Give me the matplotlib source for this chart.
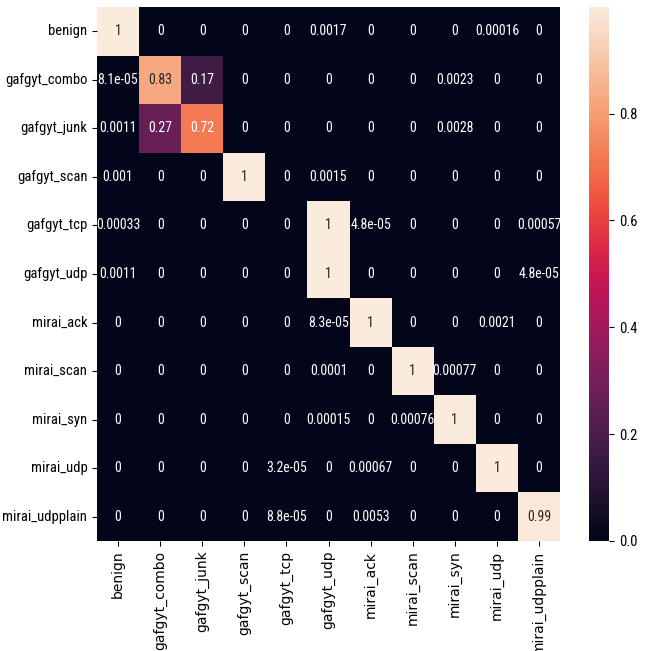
import matplotlib
matplotlib.use("Agg")
import matplotlib.pyplot as plt
import seaborn as sns
import numpy as np

labels = ["benign", "gafgyt_combo", "gafgyt_junk", "gafgyt_scan", "gafgyt_tcp",
          "gafgyt_udp", "mirai_ack", "mirai_scan", "mirai_syn", "mirai_udp",
          "mirai_udpplain"]

row_benign        = [0.9981, 0, 0, 0, 0, 0.0017, 0, 0, 0, 0.00016, 0]
row_gafgyt_combo  = [8.1e-05, 0.83, 0.17, 0, 0, 0, 0, 0, 0.0023, 0, 0]
row_gafgyt_junk   = [0.0011, 0.27, 0.72, 0, 0, 0, 0, 0, 0.0028, 0, 0]
row_gafgyt_scan   = [0.001, 0, 0, 0.9975, 0, 0.0015, 0, 0, 0, 0, 0]
row_gafgyt_tcp    = [0.00033, 0, 0, 0, 0, 0.99905, 4.8e-05, 0, 0, 0, 0.00057]
row_gafgyt_udp    = [0.0011, 0, 0, 0, 0, 0.99885, 0, 0, 0, 0, 4.8e-05]
row_mirai_ack     = [0, 0, 0, 0, 0, 8.3e-05, 0.9978, 0, 0, 0.0021, 0]
row_mirai_scan    = [0, 0, 0, 0, 0, 0.0001, 0, 0.9991, 0.00077, 0, 0]
row_mirai_syn     = [0, 0, 0, 0, 0, 0.00015, 0, 0.00076, 0.9991, 0, 0]
row_mirai_udp     = [0, 0, 0, 0, 3.2e-05, 0, 0.00067, 0, 0, 0.9993, 0]
row_mirai_udpplain = [0, 0, 0, 0, 8.8e-05, 0, 0.0053, 0, 0, 0, 0.9946]

matrix = np.array([row_benign, row_gafgyt_combo, row_gafgyt_junk, row_gafgyt_scan,
                   row_gafgyt_tcp, row_gafgyt_udp, row_mirai_ack, row_mirai_scan,
                   row_mirai_syn, row_mirai_udp, row_mirai_udpplain])

narrow = ["Roboto Condensed", "DejaVu Sans"]

fig = plt.figure(figsize=(6.46, 6.51), dpi=100)
ax = fig.add_axes([97/646, 1-541/651, (560-97)/646, (541-7)/651])
cax = fig.add_axes([589/646, 1-541/651, 20/646, (541-7)/651])

sns.heatmap(matrix, annot=True, fmt=".2g", cmap="rocket", ax=ax, cbar_ax=cax,
            xticklabels=labels, yticklabels=labels,
            annot_kws={"fontsize": 10, "family": narrow, "fontstretch": "condensed"})

ax.set_xticklabels(labels, rotation=90, fontsize=10, family="DejaVu Sans")
ax.set_yticklabels(labels, rotation=0, fontsize=10.5, family=narrow,
                   fontstretch="condensed")
for t in cax.get_yticklabels():
    t.set_fontfamily(narrow)
    t.set_fontstretch("condensed")
    t.set_fontsize(10.5)

fig.savefig("out.png", dpi=100)
